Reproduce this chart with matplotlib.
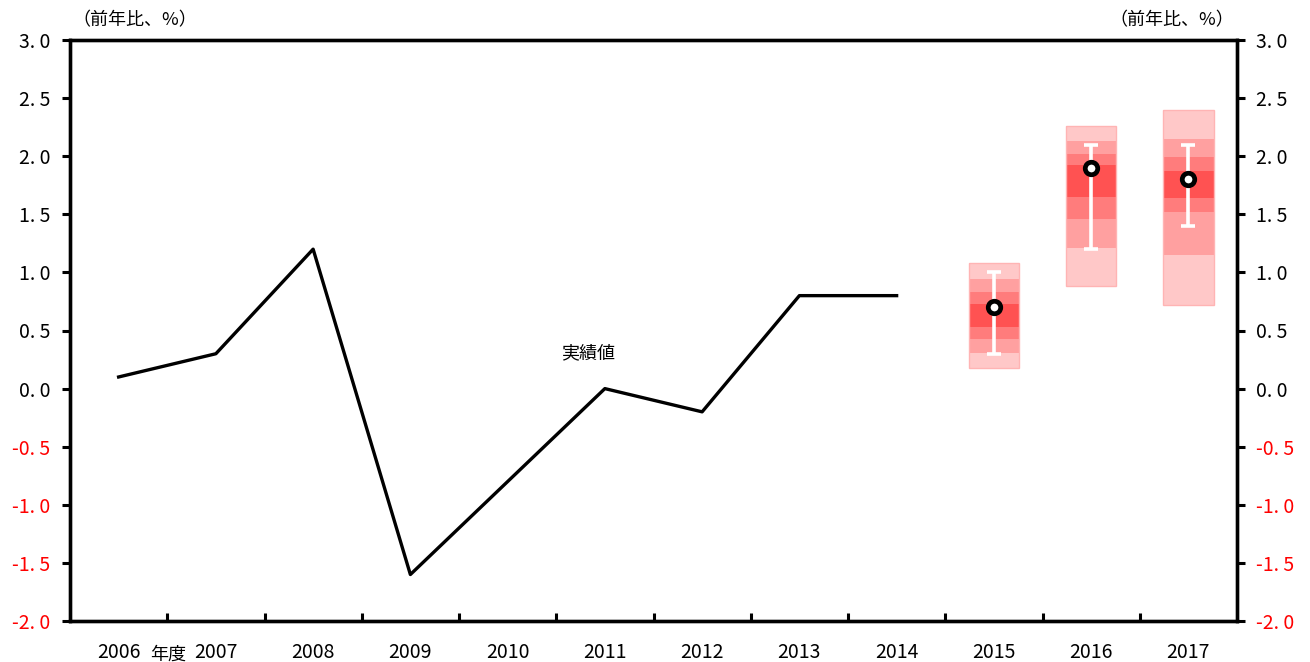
import numpy as np
import matplotlib.pyplot as plt

plt.rcParams['font.family'] = ['Noto Sans CJK JP', 'DejaVu Sans']

# 年度と実績値
years = ['2006', '2007', '2008', '2009', '2010', '2011', '2012',
         '2013', '2014', '2015', '2016', '2017']
actual = [0.1, 0.3, 1.2, -1.6, -0.8, 0.0, -0.2, 0.8, 0.8]

# 見通し（ファンチャート）: 上から下への境界値
fan_years = ['2015', '2016', '2017']
fan_edges = [
    [1.08, 0.94, 0.83, 0.73, 0.53, 0.43, 0.31, 0.18],
    [2.26, 2.13, 2.02, 1.92, 1.65, 1.46, 1.21, 0.88],
    [2.40, 2.15, 1.99, 1.87, 1.64, 1.52, 1.15, 0.72],
]
median = [0.7, 1.9, 1.8]
range_low = [0.3, 1.2, 1.4]
range_high = [1.0, 2.1, 2.1]

band_colors = ['#FFC8C8', '#FFA0A0', '#FF7C7C', '#FF5252',
               '#FF7C7C', '#FFA0A0', '#FFC8C8']

fig = plt.figure(figsize=(13.1, 6.62), dpi=100)
ax = fig.add_axes([70 / 1310, 1 - 621 / 662, 1167 / 1310, 581 / 662])

x = np.arange(len(years))
ax.plot(x[:len(actual)], actual, color='black', lw=2.4, zorder=3)

for yr, edges, med, lo, hi in zip(fan_years, fan_edges, median, range_low, range_high):
    xi = years.index(yr)
    for k in range(len(edges) - 1):
        ax.bar(xi, edges[k] - edges[k + 1], bottom=edges[k + 1], width=0.52,
               color=band_colors[k], edgecolor='none', zorder=2)
    ax.bar(xi, edges[0] - edges[-1], bottom=edges[-1], width=0.52,
           color='none', edgecolor='#FFB4B4', lw=1, zorder=2)
    ax.errorbar(xi, med, yerr=[[med - lo], [hi - med]], fmt='none',
                ecolor='white', elinewidth=2.6, capsize=5, capthick=2.6, zorder=4)
    ax.plot(xi, med, 'o', ms=9, mfc='white', mec='black', mew=3.4, zorder=5)

ax.text(4.83, 0.3, '実績値', fontsize=13, ha='center', va='center')

ax.set_xlim(-0.5, len(years) - 0.5)
ax.set_ylim(-2.0, 3.0)

yt = np.arange(-2.0, 3.01, 0.5)
ylabels = [('%.1f' % v).replace('.', '. ') for v in yt]
ax.set_yticks(yt)
ax.set_yticklabels(ylabels, fontsize=14)
for lab, v in zip(ax.get_yticklabels(), yt):
    lab.set_color('red' if v < 0 else 'black')
ax.tick_params(axis='y', direction='out', length=6, width=2.2, pad=8)

ax2 = ax.twinx()
ax2.set_ylim(-2.0, 3.0)
ax2.set_yticks(yt)
ax2.set_yticklabels(ylabels, fontsize=14)
for lab, v in zip(ax2.get_yticklabels(), yt):
    lab.set_color('red' if v < 0 else 'black')
ax2.tick_params(axis='y', direction='out', length=6, width=2.2, pad=8)

ax.set_xticks(x)
ax.set_xticklabels(years, fontsize=14)
ax.set_xticks(np.arange(0.5, len(years) - 1, 1.0), minor=True)
ax.tick_params(axis='x', which='major', length=0, pad=15)
ax.tick_params(axis='x', which='minor', direction='in', length=6, width=2.2)

for a in (ax, ax2):
    for s in a.spines.values():
        s.set_linewidth(2.4)

fig.text(135 / 1310, 1 - 20 / 662, '（前年比、%）', fontsize=13, ha='center', va='center')
fig.text(1172 / 1310, 1 - 20 / 662, '（前年比、%）', fontsize=13, ha='center', va='center')
fig.text(168 / 1310, 1 - 655 / 662, '年度', fontsize=13, ha='center', va='center')

fig.savefig('out.png', dpi=100)
